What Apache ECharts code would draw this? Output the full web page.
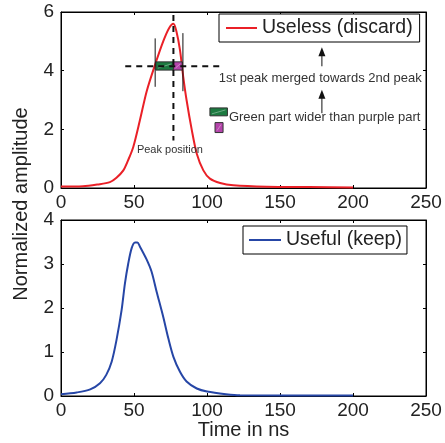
<!DOCTYPE html>
<html><head><meta charset="utf-8">
<script src="https://cdn.jsdelivr.net/npm/echarts@6/dist/echarts.min.js"></script>
<style>html,body{margin:0;padding:0;background:#fff}#c{width:445px;height:443px}</style>
</head><body><div id="c"></div>
<script>
// ---- data ----
var xTicks = [0, 50, 100, 150, 200, 250];
var topTicks = [0, 2, 4, 6];
var botTicks = [0, 1, 2, 3, 4];

var uselessT = [0,15,25,33.5,38,42.7,46,49.5,54,58.7,64.4,70,74,77,79,81.5,83.7,86,89.5,93,97.5,102,109,118,141,170,200];
var uselessV = [0.05,0.06,0.12,0.2,0.35,0.6,0.95,1.4,2.3,3.3,4.2,5.0,5.45,5.6,5.35,4.7,3.8,3.0,2.0,1.17,0.6,0.32,0.17,0.09,0.04,0.03,0.02];

var usefulT = [0,10.7,20,26.7,31,34.7,38,41.5,43.8,46,48.4,50.7,52.3,54,58.7,62,65.5,70,73.5,77,81.5,86,93,100,113,122.6,200];
var usefulV = [0.04,0.08,0.15,0.29,0.48,0.78,1.27,1.95,2.56,3.0,3.36,3.49,3.49,3.4,3.1,2.83,2.37,1.8,1.31,0.89,0.55,0.33,0.17,0.1,0.04,0.015,0.01];

// annotation geometry (data units)
var peakT = 77, peakTop = 5.9, peakBottom = 1.62;
var hLineY = 4.15, hLineFrom = 44, hLineTo = 111;
var widthBarsT = [64.5, 83.5];
var widthBarsLow = [3.45, 3.3];
var widthBarsHigh = [5.1, 5.28];
// rectangles: [t0, t1, v0, v1, kind]
var rects = [
  [65, 77, 4.02, 4.3, 'green'],
  [77, 83, 4.02, 4.3, 'purple'],
  [102, 114, 2.46, 2.73, 'green'],
  [105.5, 111, 1.89, 2.23, 'purple']
];
// arrows: [t, vFrom, vTo]
var arrows = [[178.7, 4.15, 4.8], [178.7, 2.55, 3.35]];
// texts: [t, v, text, size, align]
var notes = [
  [108, 3.75, '1st peak merged towards 2nd peak', 13, 'left'],
  [115, 2.4, 'Green part wider than purple part', 13, 'left'],
  [52, 1.28, 'Peak position', 11, 'left']
];

var RED = '#ea2027', BLUE = '#2646a6', GREEN = '#1c7a40', PURPLE = '#b544ab';
var FONT = 'Liberation Sans, Arial, sans-serif';

function pairs(t, v){ return t.map(function(x,i){return [x, v[i]];}); }

var chart = echarts.init(document.getElementById('c'), null, {renderer:'canvas'});

function xAx(gi, pos, labels){
  return {type:'value', gridIndex:gi, position:pos, min:0, max:250, interval:50,
    axisLine:{show:true, onZero:false, lineStyle:{color:'#000', width:1}},
    axisTick:{show:true, inside:true, length:3, lineStyle:{color:'#000'}},
    axisLabel:{show:labels, color:'#222', fontSize:19, fontFamily:FONT, margin:5},
    splitLine:{show:false}};
}
function yAx(gi, pos, max, interval, labels){
  return {type:'value', gridIndex:gi, position:pos, min:0, max:max, interval:interval,
    axisLine:{show:true, onZero:false, lineStyle:{color:'#000', width:1}},
    axisTick:{show:true, inside:true, length:3, lineStyle:{color:'#000'}},
    axisLabel:{show:labels, color:'#222', fontSize:19, fontFamily:FONT, margin:7},
    splitLine:{show:false}};
}

var xAxes = [xAx(0,'bottom',true), xAx(0,'top',false), xAx(1,'bottom',true), xAx(1,'top',false)];
xAxes[2].name = 'Time in ns';
xAxes[2].nameLocation = 'middle';
xAxes[2].nameGap = 23;
xAxes[2].nameTextStyle = {color:'#222', fontSize:20, fontFamily:FONT};

var yAxes = [yAx(0,'left',6,2,true), yAx(0,'right',6,2,false), yAx(1,'left',4,1,true), yAx(1,'right',4,1,false)];

var series = [
  {name:'Useless (discard)', type:'line', xAxisIndex:0, yAxisIndex:0, data:pairs(uselessT, uselessV),
   showSymbol:false, smooth:0.3, lineStyle:{color:RED, width:2}, itemStyle:{color:RED}, z:3},
  {name:'Useful (keep)', type:'line', xAxisIndex:2, yAxisIndex:2, data:pairs(usefulT, usefulV),
   showSymbol:false, smooth:0.3, lineStyle:{color:BLUE, width:2}, itemStyle:{color:BLUE}, z:3},
  // dashed lines
  {type:'line', xAxisIndex:0, yAxisIndex:0, data:[[peakT, peakTop],[peakT, peakBottom]], showSymbol:false,
   lineStyle:{color:'#111', width:2, type:[6,5]}, z:5, silent:true},
  {type:'line', xAxisIndex:0, yAxisIndex:0, data:[[hLineFrom, hLineY],[hLineTo, hLineY]], showSymbol:false,
   lineStyle:{color:'#111', width:2, type:[6,5]}, z:5, silent:true},
  // width bars
  {type:'line', xAxisIndex:0, yAxisIndex:0, data:[[widthBarsT[0], widthBarsLow[0]],[widthBarsT[0], widthBarsHigh[0]]], showSymbol:false,
   lineStyle:{color:'#111', width:1}, z:5, silent:true},
  {type:'line', xAxisIndex:0, yAxisIndex:0, data:[[widthBarsT[1], widthBarsLow[1]],[widthBarsT[1], widthBarsHigh[1]]], showSymbol:false,
   lineStyle:{color:'#111', width:1}, z:5, silent:true},
  // rectangles
  {type:'custom', xAxisIndex:0, yAxisIndex:0, data:rects, z:4, silent:true,
   renderItem:function(params, api){
     var p0 = api.coord([api.value(0), api.value(2)]);
     var p1 = api.coord([api.value(1), api.value(3)]);
     var kind = rects[params.dataIndex][4];
     var col = kind === 'green' ? GREEN : PURPLE;
     var x = Math.min(p0[0],p1[0]), y = Math.min(p0[1],p1[1]);
     var w = Math.abs(p1[0]-p0[0]), h = Math.abs(p1[1]-p0[1]);
     return {type:'group', children:[
       {type:'rect', shape:{x:x, y:y, width:w, height:h}, style:{fill:col, stroke:'#333', lineWidth:1}},
       {type:'line', shape:{x1:x+2, y1:y+h-2, x2:x+w-2, y2:y+2}, style:{stroke:'rgba(255,255,255,0.35)', lineWidth:1}}
     ]};
   }},
  // arrows
  {type:'custom', xAxisIndex:0, yAxisIndex:0, data:arrows, z:5, silent:true,
   renderItem:function(params, api){
     var a = api.coord([api.value(0), api.value(1)]);
     var b = api.coord([api.value(0), api.value(2)]);
     return {type:'group', children:[
       {type:'line', shape:{x1:a[0], y1:a[1], x2:b[0], y2:b[1]+6}, style:{stroke:'#111', lineWidth:1}},
       {type:'polygon', shape:{points:[[b[0], b[1]],[b[0]-3.5, b[1]+9],[b[0]+3.5, b[1]+9]]}, style:{fill:'#111'}}
     ]};
   }},
  // notes
  {type:'custom', xAxisIndex:0, yAxisIndex:0, data:notes, z:6, silent:true,
   renderItem:function(params, api){
     var n = notes[params.dataIndex];
     var p = api.coord([n[0], n[1]]);
     return {type:'text', x:p[0], y:p[1], style:{text:n[2], fill:'#333', fontSize:n[3], fontFamily:FONT, align:n[4], verticalAlign:'middle'}};
   }}
];

chart.setOption({
  animation:false,
  backgroundColor:'#fff',
  grid:[
    {left:61, top:12, width:365, height:176, show:true, borderColor:'#000', borderWidth:1, backgroundColor:'transparent'},
    {left:61, top:220, width:365, height:176, show:true, borderColor:'#000', borderWidth:1, backgroundColor:'transparent'}
  ],
  xAxis:xAxes,
  yAxis:yAxes,
  legend:[
    {data:['Useless (discard)'], left:219, top:14, orient:'horizontal', backgroundColor:'#fff', borderColor:'#000', borderWidth:1,
     padding:[4,7,4,7], itemWidth:31, itemHeight:2, itemGap:4, icon:'rect',
     textStyle:{fontSize:19.5, color:'#222', fontFamily:FONT}},
    {data:['Useful (keep)'], left:243, top:226, orient:'horizontal', backgroundColor:'#fff', borderColor:'#000', borderWidth:1,
     padding:[4,5,4,6], itemWidth:32, itemHeight:2, itemGap:4, icon:'rect',
     textStyle:{fontSize:19.5, color:'#222', fontFamily:FONT}}
  ],
  graphic:[
    {type:'text', x:21, y:204, rotation:Math.PI/2,
     style:{text:'Normalized amplitude', fontSize:20, fontFamily:FONT, fill:'#222', align:'center', verticalAlign:'middle'}}
  ],
  series:series
});
</script></body></html>
